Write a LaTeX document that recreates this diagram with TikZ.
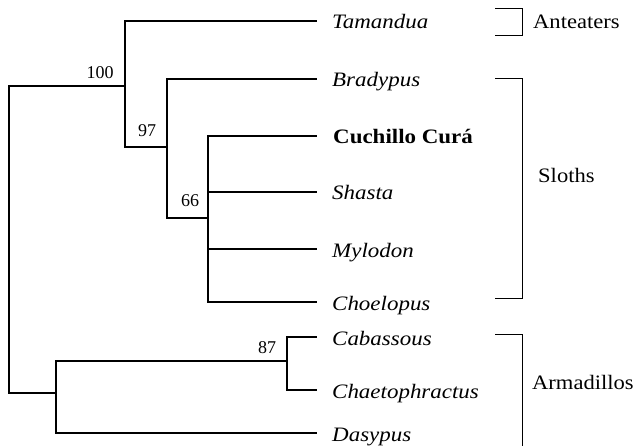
\documentclass[tikz,border=0pt]{standalone}
\usepackage{fontspec}
\setmainfont{Liberation Serif}
\usepackage{graphicx}
\begin{document}
\begin{tikzpicture}[x=1pt,y=-1pt,
  branch/.style={line width=2.8pt,line cap=rect},
  bracketline/.style={line width=1pt},
  taxon/.style={anchor=base west,inner sep=0pt,font=\fontsize{20.5}{24}\selectfont},
  group/.style={anchor=base west,inner sep=0pt,font=\fontsize{20.5}{24}\selectfont},
  support/.style={anchor=base,inner sep=0pt,font=\fontsize{18}{20}\selectfont}]
\useasboundingbox (0,0) rectangle (639,446);
% internal nodes
\coordinate (root) at (9,240);
\coordinate (n100) at (125,86);
\coordinate (n97) at (167,147);
\coordinate (n66) at (208,218);
\coordinate (narm) at (56,393);
\coordinate (n87) at (287,361);
% leaf ends
\coordinate (tam) at (316,21);
\coordinate (bra) at (316,79);
\coordinate (cuc) at (316,136);
\coordinate (sha) at (316,192);
\coordinate (myl) at (316,249);
\coordinate (cho) at (316,302);
\coordinate (cab) at (316,337);
\coordinate (cha) at (316,390);
\coordinate (das) at (316,433);
% branches
\draw[branch] (n100) -| (root) |- (narm);
\draw[branch] (tam) -| (n100) |- (n97);
\draw[branch] (bra) -| (n97) |- (n66);
\draw[branch] (cuc) -| (n66) |- (cho);
\draw[branch] (n66) |- (sha);
\draw[branch] (n66) |- (myl);
\draw[branch] (n87) -| (narm) |- (das);
\draw[branch] (cab) -| (n87) |- (cha);
% taxa
\node[taxon] (ttam) at (332,29) {\scalebox{1.12}[1]{\itshape Tamandua}};
\node[taxon] (tbra) at (332,87) {\scalebox{1.12}[1]{\itshape Bradypus}};
\node[taxon] (tcuc) at (333,144) {\scalebox{1.12}[1]{\bfseries Cuchillo Curá}};
\node[taxon] (tsha) at (332,200) {\scalebox{1.12}[1]{\itshape Shasta}};
\node[taxon] (tmyl) at (332,257) {\scalebox{1.12}[1]{\itshape Mylodon}};
\node[taxon] (tcho) at (332,310) {\scalebox{1.12}[1]{\itshape Choelopus}};
\node[taxon] (tcab) at (332,345) {\scalebox{1.12}[1]{\itshape Cabassous}};
\node[taxon] (tcha) at (332,398) {\scalebox{1.12}[1]{\itshape Chaetophractus}};
\node[taxon] (tdas) at (332,441) {\scalebox{1.12}[1]{\itshape Dasypus}};
% support values
\node[support] (s100) at (100,79) {100};
\node[support] (s97) at (147,137) {97};
\node[support] (s66) at (190,207) {66};
\node[support] (s87) at (267,353) {87};
% group brackets
\coordinate (a1) at (495,9); \coordinate (a2) at (522,36);
\draw[bracketline] (a1) -| (a2) -- (495,36);
\coordinate (s1) at (495,79); \coordinate (s2) at (522,298);
\draw[bracketline] (s1) -| (s2) -- (495,298);
\coordinate (m1) at (495,334); \coordinate (m2) at (522,446);
\draw[bracketline] (m1) -| (m2);
\node[group] (gant) at (533,29) {\scalebox{1.1}[1]{Anteaters}};
\node[group] (gslo) at (538,183) {\scalebox{1.1}[1]{Sloths}};
\node[group] (garm) at (532,389) {\scalebox{1.1}[1]{Armadillos}};
\end{tikzpicture}
\end{document}
